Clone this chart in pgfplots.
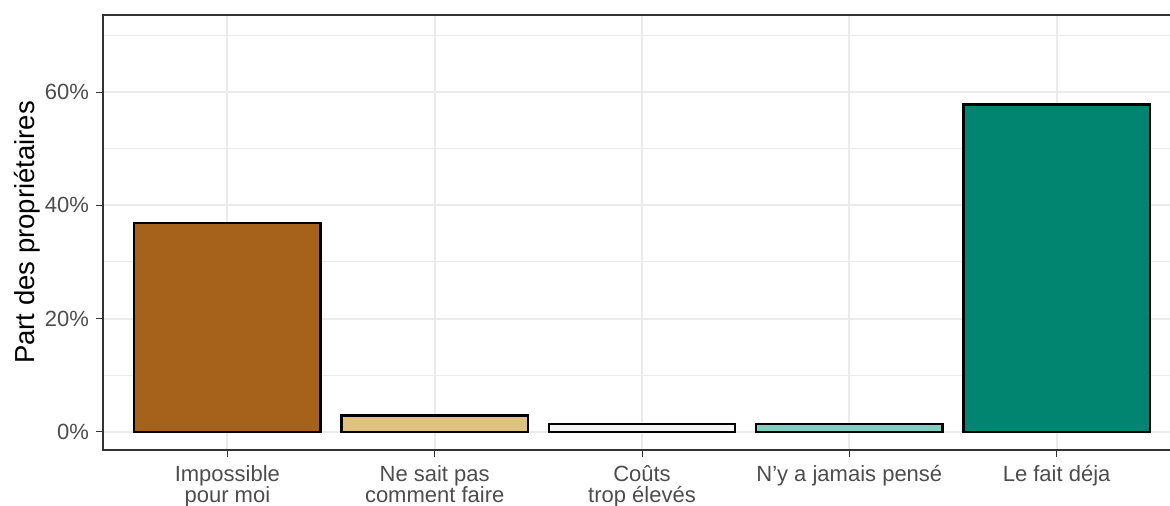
\documentclass[border=0pt]{standalone}
\usepackage{pgfplots}
\pgfplotsset{compat=1.18}
\usepackage{fontspec}
\setmainfont{Liberation Sans}

\definecolor{brbg1}{HTML}{A6611A}
\definecolor{brbg2}{HTML}{DFC27D}
\definecolor{brbg3}{HTML}{F5F5F5}
\definecolor{brbg4}{HTML}{80CDC1}
\definecolor{brbg5}{HTML}{018571}
\definecolor{grid92}{HTML}{EBEBEB}
\definecolor{gray20}{HTML}{333333}
\definecolor{gray30}{HTML}{4D4D4D}

\begin{document}
\begin{tikzpicture}
\begin{axis}[
    scale only axis,
    width=539pt, height=217.5pt,
    xmin=0.4, xmax=5.6,
    ymin=-3.2, ymax=73.6,
    ybar, bar width=0.9, bar shift=0pt,
    xtick={1,2,3,4,5},
    xticklabels={{Impossible\\pour moi},{Ne sait pas\\comment faire},{Coûts\\trop élevés},{N'y a jamais pensé},{Le fait déja}},
    ytick={0,20,40,60},
    yticklabels={0\%,20\%,40\%,60\%},
    minor ytick={10,30,50,70},
    grid=both,
    major grid style={color=grid92, line width=1pt},
    minor grid style={color=grid92, line width=0.5pt},
    tick align=outside,
    tick pos=left,
    major tick length=3.5pt,
    minor tick length=0pt,
    tick style={color=gray20, line width=0.5pt},
    axis line style={color=gray20, line width=0.75pt},
    ticklabel style={font=\fontsize{11}{10.4}\selectfont, text=gray30},
    xticklabel style={align=center, yshift=-0.6pt},
    ylabel={Part des propriétaires},
    ylabel style={font=\fontsize{13.75}{16}\selectfont, at={(axis description cs:-0.0519,0.5)}, anchor=south},
    every axis plot/.append style={draw=black, line width=1.2pt},
]
\addplot[fill=brbg1] coordinates {(1,36.9)};
\addplot[fill=brbg2] coordinates {(2,2.9)};
\addplot[fill=brbg3] coordinates {(3,1.4)};
\addplot[fill=brbg4] coordinates {(4,1.4)};
\addplot[fill=brbg5] coordinates {(5,57.8)};
\end{axis}
\pgfresetboundingbox
\useasboundingbox (-51.5pt,-28pt) rectangle (533.5pt,225pt);
\end{tikzpicture}
\end{document}
